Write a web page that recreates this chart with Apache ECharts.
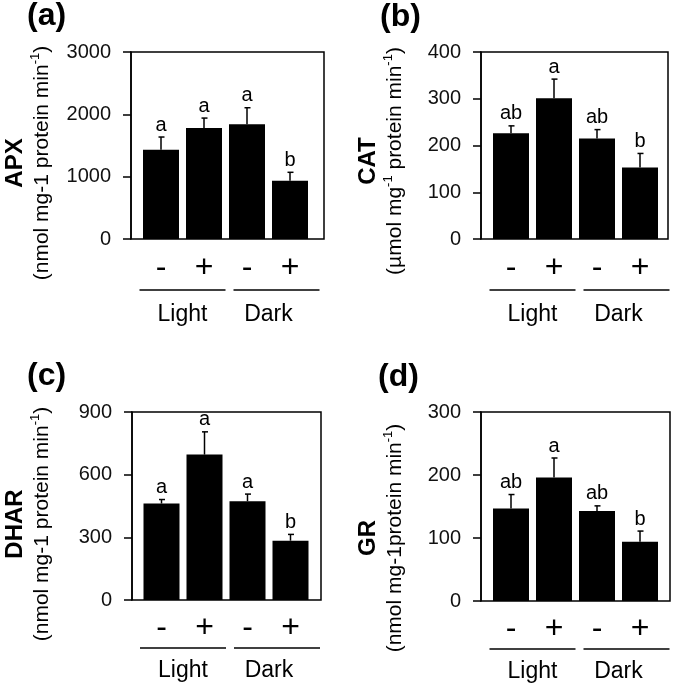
<!DOCTYPE html>
<html>
<head>
<meta charset="utf-8">
<title>APX / CAT / DHAR / GR</title>
<script src="https://cdn.jsdelivr.net/npm/echarts@6.0.0/dist/echarts.min.js"></script>
<style>html,body{margin:0;padding:0;background:#fff;}</style>
</head>
<body>
<div id="main" style="width:675px;height:685px;"></div>
<script>
// values
var treatments = ['-', '+', '-', '+'];
var groups = ['Light', 'Dark'];

var apxMean = [1430, 1780, 1840, 935];
var apxErr = [206, 160, 266, 135];
var apxLetters = ['a', 'a', 'a', 'b'];

var catMean = [226, 301, 215, 153];
var catErr = [16, 41, 19, 30];
var catLetters = ['ab', 'a', 'ab', 'b'];

var dharMean = [462, 696, 473, 284];
var dharErr = [19, 109, 34, 30];
var dharLetters = ['a', 'a', 'a', 'b'];

var grMean = [147, 196, 143, 94];
var grErr = [22, 31, 8, 17];
var grLetters = ['ab', 'a', 'ab', 'b'];

var yMax = [3000, 400, 900, 300];
var yStep = [1000, 100, 300, 100];
var panelTags = ['(a)', '(b)', '(c)', '(d)'];
var enzymes = ['APX', 'CAT', 'DHAR', 'GR'];
var units = [
    '{n|(nmol mg-1 protein min}{s|-1}{n|)}',
    '{n|(\u00b5mol mg}{s|-1}{n| protein min}{s|-1}{n|)}',
    '{n|(nmol mg-1 protein min}{s|-1}{n|)}',
    '{n|(nmol mg-1protein min}{s|-1}{n|)}'
];

var means = [apxMean, catMean, dharMean, grMean];
var errs = [apxErr, catErr, dharErr, grErr];
var letters = [apxLetters, catLetters, dharLetters, grLetters];

// layout (pixels)
var frames = [[131, 52, 193, 187], [481, 52, 187, 187], [132, 412, 189, 188], [481, 412, 189, 189]];
var dataLeft = [139.5, 489.5, 140, 489.5];
var dataWidth = 172;
var tagPos = [[27, 0], [380, 1], [27, 360], [378, 361]];
var titlePos = [[28.5, 163], [382, 161], [28.5, 524], [382, 538]];
var ruleGap = [51, 51, 48, 48];      // bracket line below the axis
var signGap = [13, 13, 12, 12];      // - / + label margin
var groupOffset = [56, 56, 51, 51];  // Light / Dark label axis offset

var FONT = '"Liberation Sans", Arial, sans-serif';

function errorRenderer(lbl) {
    return function (params, api) {
        var i = api.value(0);
        var base = api.coord([i, api.value(1)]);
        var top = api.coord([i, api.value(1) + api.value(2)]);
        return {
            type: 'group',
            children: [
                {type: 'line', shape: {x1: base[0], y1: base[1], x2: top[0], y2: top[1]},
                    style: {stroke: '#000', lineWidth: 1.5}},
                {type: 'line', shape: {x1: top[0] - 2.5, y1: top[1], x2: top[0] + 3.5, y2: top[1]},
                    style: {stroke: '#000', lineWidth: 1.5}},
                {type: 'text', x: top[0], y: top[1] - 2,
                    style: {text: lbl[params.dataIndex], align: 'center', verticalAlign: 'bottom',
                        font: '20px ' + FONT, fill: '#000'}}
            ]
        };
    };
}

var grids = [], xAxes = [], yAxes = [], series = [], graphics = [], titles = [];

for (var p = 0; p < 4; p++) {
    var f = frames[p];
    var bottom = f[1] + f[3];
    // frame box
    grids.push({left: f[0], top: f[1], width: f[2], height: f[3], show: true,
        borderColor: '#000', borderWidth: 1.5, backgroundColor: 'transparent', outerBoundsMode: 'none'});
    // data area
    grids.push({left: dataLeft[p], top: f[1], width: dataWidth, height: f[3], outerBoundsMode: 'none'});
    var g = grids.length - 1;

    xAxes.push({
        type: 'category', gridIndex: g, data: treatments, position: 'bottom',
        axisLine: {show: false}, axisTick: {show: false},
        axisLabel: {fontSize: 32, color: '#000', fontFamily: FONT, margin: signGap[p]}
    });
    var xi = xAxes.length - 1;
    xAxes.push({
        type: 'category', gridIndex: g, data: groups, position: 'bottom', offset: groupOffset[p],
        axisLine: {show: false}, axisTick: {show: false},
        axisLabel: {fontSize: 23, color: '#000', fontFamily: FONT, margin: 8}
    });
    yAxes.push({
        type: 'value', gridIndex: g, min: 0, max: yMax[p], interval: yStep[p],
        offset: dataLeft[p] - f[0],
        axisLine: {show: true, lineStyle: {color: '#000', width: 1.5}},
        axisTick: {show: true, length: 8, lineStyle: {color: '#000', width: 1.5}},
        axisLabel: {fontSize: 20, color: '#111', fontFamily: FONT, margin: 20,
            formatter: function (v) { return String(v); }},
        splitLine: {show: false}
    });
    var yi = yAxes.length - 1;

    series.push({
        type: 'bar', xAxisIndex: xi, yAxisIndex: yi, data: means[p], barWidth: 36,
        itemStyle: {color: '#000'}, silent: true
    });
    var errData = means[p].map(function (m, i) { return [i, m, errs[p][i]]; });
    series.push({
        type: 'custom', xAxisIndex: xi, yAxisIndex: yi, data: errData, z: 5,
        renderItem: errorRenderer(letters[p]), silent: true
    });

    // panel tag
    titles.push({text: panelTags[p], left: tagPos[p][0], top: tagPos[p][1], padding: 0,
        textStyle: {fontSize: 32, fontWeight: 'bold', fontFamily: FONT, color: '#000'}});
    // y title
    graphics.push({type: 'text', x: titlePos[p][0], y: titlePos[p][1], rotation: Math.PI / 2,
        style: {
            text: '{t|' + enzymes[p] + '}\n' + units[p],
            align: 'center', verticalAlign: 'middle', fill: '#000',
            rich: {
                t: {fontSize: 24, fontWeight: 'bold', fontFamily: FONT, lineHeight: 27, fill: '#000'},
                n: {fontSize: 21, fontFamily: FONT, lineHeight: 27, fill: '#000'},
                s: {fontSize: 13, fontFamily: FONT, lineHeight: 14, verticalAlign: 'top', fill: '#000'}
            }
        }});
    // Light / Dark bracket lines
    var L = dataLeft[p], half = dataWidth / 2, ry = bottom + ruleGap[p];
    graphics.push({type: 'line', shape: {x1: L, y1: ry, x2: L + half, y2: ry},
        style: {stroke: '#000', lineWidth: 1.5}});
    graphics.push({type: 'line', shape: {x1: L + half + 8, y1: ry, x2: L + dataWidth + 8, y2: ry},
        style: {stroke: '#000', lineWidth: 1.5}});
}

var chart = echarts.init(document.getElementById('main'));
chart.setOption({
    animation: false,
    backgroundColor: '#fff',
    title: titles,
    grid: grids,
    xAxis: xAxes,
    yAxis: yAxes,
    series: series,
    graphic: graphics
});
</script>
</body>
</html>
